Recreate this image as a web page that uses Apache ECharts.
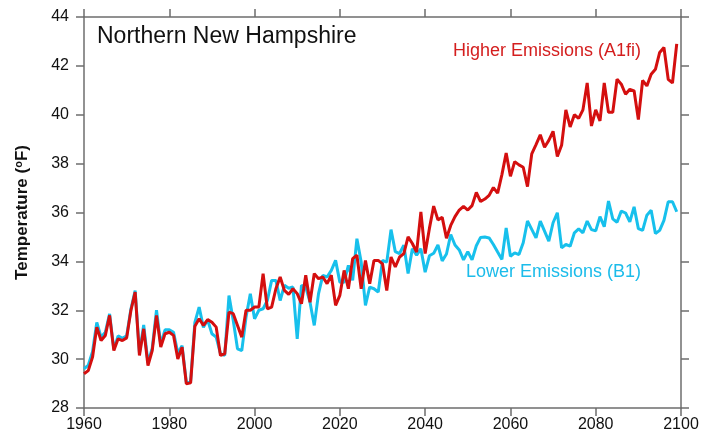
<!DOCTYPE html>
<html>
<head>
<meta charset="utf-8">
<script src="https://cdn.jsdelivr.net/npm/echarts@6/dist/echarts.min.js"></script>
<style>html,body{margin:0;padding:0;background:#fff;}#c{width:721px;height:443px;}</style>
</head>
<body>
<div id="c"></div>
<script>
var startYear = 1960;
var xTicks = [1960, 1980, 2000, 2020, 2040, 2060, 2080, 2100];
var yTicks = [28, 30, 32, 34, 36, 38, 40, 42, 44];
var seriesNames = ['Lower Emissions (B1)', 'Higher Emissions (A1fi)'];
var titleText = 'Northern New Hampshire';

var higherA1fi = [
29.4,29.53,30.08,31.31,30.76,30.97,31.79,30.35,30.83,30.76,
30.87,31.99,32.74,30.15,31.24,29.74,30.35,31.79,30.49,31.04,
31.1,30.97,30.01,30.49,28.99,29.03,31.35,31.65,31.38,31.62,
31.51,31.31,30.15,30.22,31.92,31.86,31.38,30.9,32.0,32.0,
32.13,32.13,33.5,32.06,32.13,32.88,33.36,32.81,32.65,32.88,
32.68,32.27,33.43,32.33,33.5,33.29,33.36,33.09,33.43,32.2,
32.61,33.63,32.88,34.11,34.25,32.88,34.04,33.09,34.04,34.04,
33.9,32.81,34.18,33.77,34.18,34.32,35.0,34.73,34.38,36.02,
34.32,35.35,36.26,35.7,35.8,34.95,35.47,35.83,36.1,36.25,
36.1,36.28,36.82,36.45,36.55,36.7,37.02,36.79,37.55,38.43,
37.48,38.08,37.95,37.85,37.06,38.4,38.78,39.18,38.67,38.95,
39.32,38.29,38.75,40.2,39.5,40.0,39.85,40.2,41.3,39.54,
40.2,39.75,41.3,40.1,40.1,41.45,41.25,40.84,41.04,40.98,
39.8,41.4,41.18,41.66,41.86,42.55,42.75,41.45,41.3,42.9
];

var lowerB1 = [
29.6,29.75,30.3,31.5,30.9,31.1,31.85,30.4,30.95,30.85,
30.95,32.05,32.8,30.25,31.4,29.85,30.45,32.0,30.6,31.2,
31.2,31.1,30.25,30.55,29.05,29.1,31.5,32.13,31.3,31.6,
31.04,30.9,30.22,30.15,32.6,31.58,30.42,30.35,31.72,32.67,
31.65,32.0,32.06,32.4,33.22,33.22,32.4,33.02,32.9,32.95,
30.83,33.02,32.95,32.33,31.38,32.68,33.43,33.36,33.63,34.04,
33.15,33.15,33.84,33.22,34.93,33.97,32.2,32.95,32.88,32.74,
34.04,33.97,35.3,34.4,34.32,34.66,33.5,34.52,34.25,34.52,
33.56,34.23,34.33,34.67,34.02,34.3,35.1,34.67,34.47,34.06,
34.4,34.06,34.64,34.98,35.0,34.96,34.69,34.38,34.08,35.37,
34.21,34.35,34.28,34.76,35.65,35.31,34.96,35.65,35.24,34.83,
35.58,35.99,34.55,34.69,34.62,35.17,35.33,35.17,35.65,35.3,
35.25,35.83,35.42,36.47,35.74,35.6,36.06,35.98,35.62,36.23,
35.34,35.27,35.89,36.09,35.14,35.27,35.68,36.44,36.44,36.03
];

function pairs(vals) {
  return vals.map(function (v, i) { return [startYear + i, v]; });
}

var axisGray = '#6e6e6e';
var font = 'Liberation Sans, Arial, Helvetica, sans-serif';
var xMin = xTicks[0], xMax = xTicks[xTicks.length - 1];
var yMin = yTicks[0], yMax = yTicks[yTicks.length - 1];

function xAxisCfg(pos, showLabels) {
  return {
    type: 'value', position: pos, min: xMin, max: xMax, interval: 20,
    axisLine: { show: true, onZero: false, lineStyle: { color: axisGray, width: 1.5 } },
    axisTick: { show: true, inside: false, length: 8, lineStyle: { color: axisGray, width: 1.5 } },
    axisLabel: { show: showLabels, margin: 9, color: '#111', fontSize: 16, fontFamily: font,
      formatter: function (v) { return String(v); } },
    splitLine: { show: false }
  };
}
function yAxisCfg(pos, showLabels) {
  var c = {
    type: 'value', position: pos, min: yMin, max: yMax, interval: 2,
    axisLine: { show: true, onZero: false, lineStyle: { color: axisGray, width: 1.5 } },
    axisTick: { show: true, inside: false, length: 8, lineStyle: { color: axisGray, width: 1.5 } },
    axisLabel: { show: showLabels, margin: 15, color: '#111', fontSize: 16, fontFamily: font },
    splitLine: { show: false }
  };
  if (showLabels) {
    c.name = '{a|Temperature (}{s|o}{a|F)}';
    c.nameLocation = 'middle';
    c.nameRotate = 90;
    c.nameGap = 52;
    c.nameTextStyle = {
      rich: {
        a: { fontSize: 17, fontWeight: 'bold', color: '#111', fontFamily: font },
        s: { fontSize: 11, fontWeight: 'bold', color: '#111', fontFamily: font, verticalAlign: 'top', padding: [0, 0, 8, 0] }
      }
    };
  }
  return c;
}

var chart = echarts.init(document.getElementById('c'), null, { renderer: 'canvas' });
chart.setOption({
  animation: false,
  backgroundColor: '#ffffff',
  grid: { left: 84, right: 40, top: 17, bottom: 35, containLabel: false },
  xAxis: [xAxisCfg('bottom', true), xAxisCfg('top', false)],
  yAxis: [yAxisCfg('left', true), yAxisCfg('right', false)],
  title: {
    text: titleText, left: 97, top: 25, padding: 0,
    textStyle: { fontSize: 23, fontWeight: 'normal', color: '#111', fontFamily: font }
  },
  graphic: [
    { type: 'text', left: 453, top: 42, style: { text: seriesNames[1], fill: '#d41e1e', fontSize: 18, fontFamily: font } },
    { type: 'text', left: 466, top: 263, style: { text: seriesNames[0], fill: '#1cbcea', fontSize: 18, fontFamily: font } }
  ],
  series: [
    { name: seriesNames[0], type: 'line', data: pairs(lowerB1), showSymbol: false, symbol: 'none',
      lineStyle: { color: '#17c0ec', width: 3 }, itemStyle: { color: '#17c0ec' }, z: 2 },
    { name: seriesNames[1], type: 'line', data: pairs(higherA1fi), showSymbol: false, symbol: 'none',
      lineStyle: { color: '#d40f0f', width: 3 }, itemStyle: { color: '#d40f0f' }, z: 3 }
  ]
});
</script>
</body>
</html>
